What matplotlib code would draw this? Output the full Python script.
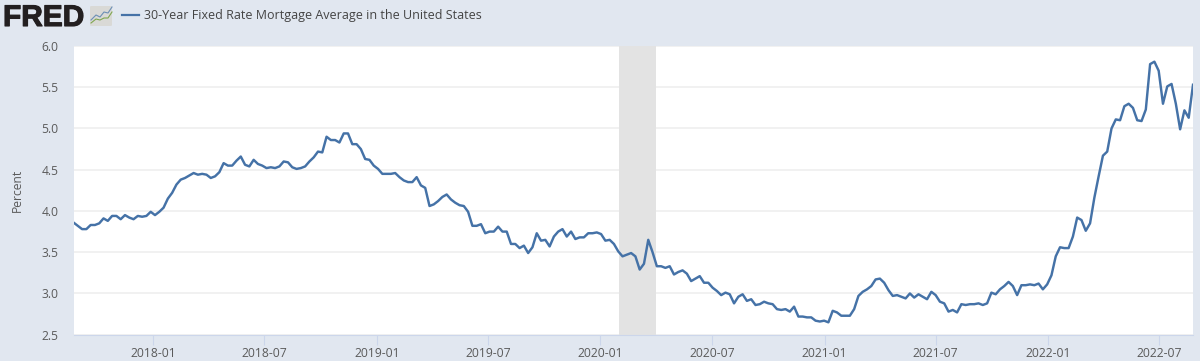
import matplotlib
matplotlib.use("Agg")
import matplotlib.pyplot as plt
import matplotlib.patheffects as pe
import pandas as pd
from matplotlib.lines import Line2D
from matplotlib.patches import FancyBboxPatch

series_name = "30-Year Fixed Rate Mortgage Average in the United States"
y_label = "Percent"
y_ticks = [2.5, 3.0, 3.5, 4.0, 4.5, 5.0, 5.5, 6.0]
x_ticks = ["2018-01", "2018-07", "2019-01", "2019-07", "2020-01", "2020-07",
           "2021-01", "2021-07", "2022-01", "2022-07"]
recession = ("2020-02-01", "2020-04-01")
start_date = "2017-08-24"

v2017 = [3.86, 3.82, 3.78, 3.78, 3.83, 3.83, 3.85, 3.91, 3.88, 3.94, 3.94, 3.90,
         3.95, 3.92, 3.90, 3.94, 3.93, 3.94, 3.99]
v2018 = [3.95, 3.99, 4.04, 4.15, 4.22, 4.32, 4.38, 4.40, 4.43, 4.46,
         4.44, 4.45, 4.44, 4.40, 4.42, 4.47, 4.58, 4.55, 4.55, 4.61,
         4.66, 4.56, 4.54, 4.62, 4.57, 4.55, 4.52, 4.53, 4.52, 4.54,
         4.60, 4.59, 4.53, 4.51, 4.52, 4.54, 4.60, 4.65, 4.72, 4.71,
         4.90, 4.86, 4.86, 4.83, 4.94, 4.94, 4.81, 4.81, 4.75, 4.63,
         4.62, 4.55]
v2019 = [4.51, 4.45, 4.45, 4.45, 4.46, 4.41, 4.37, 4.35, 4.35, 4.41,
         4.31, 4.28, 4.06, 4.08, 4.12, 4.17, 4.20, 4.14, 4.10, 4.07,
         4.06, 3.99, 3.82, 3.82, 3.84, 3.73, 3.75, 3.75, 3.81, 3.75,
         3.75, 3.60, 3.60, 3.55, 3.58, 3.49, 3.56, 3.73, 3.64, 3.65,
         3.57, 3.69, 3.75, 3.78, 3.69, 3.75, 3.66, 3.68, 3.68, 3.73,
         3.73, 3.74]
v2020 = [3.72, 3.64, 3.65, 3.60, 3.51, 3.45, 3.47, 3.49, 3.45, 3.29,
         3.36, 3.65, 3.50, 3.33, 3.33, 3.31, 3.33, 3.23, 3.26, 3.28,
         3.24, 3.15, 3.18, 3.21, 3.13, 3.13, 3.07, 3.03, 2.98, 3.01,
         2.99, 2.88, 2.96, 2.99, 2.91, 2.93, 2.86, 2.87, 2.90, 2.88,
         2.87, 2.81, 2.80, 2.81, 2.78, 2.84, 2.72, 2.72, 2.71, 2.71,
         2.67, 2.66, 2.67]
v2021 = [2.65, 2.79, 2.77, 2.73, 2.73, 2.73, 2.81, 2.97, 3.02, 3.05,
         3.09, 3.17, 3.18, 3.13, 3.04, 2.97, 2.98, 2.96, 2.94, 3.00,
         2.95, 2.99, 2.96, 2.93, 3.02, 2.98, 2.90, 2.88, 2.78, 2.80,
         2.77, 2.87, 2.86, 2.87, 2.87, 2.88, 2.86, 2.88, 3.01, 2.99,
         3.05, 3.09, 3.14, 3.09, 2.98, 3.10, 3.10, 3.11, 3.10, 3.12,
         3.05, 3.11]
v2022 = [3.22, 3.45, 3.56, 3.55, 3.55, 3.69, 3.92, 3.89, 3.76, 3.85,
         4.16, 4.42, 4.67, 4.72, 5.00, 5.11, 5.10, 5.27, 5.30, 5.25,
         5.10, 5.09, 5.23, 5.78, 5.81, 5.70, 5.30, 5.51, 5.54, 5.30,
         4.99, 5.22, 5.13, 5.53]
values = v2017 + v2018 + v2019 + v2020 + v2021 + v2022
dates = pd.date_range(start_date, periods=len(values), freq="7D")

BG = "#e1e7f0"
LINE = "#4572a7"
TXT = "#5a5a5a"
W, H = 1200, 361

plt.rcParams["font.family"] = ["Open Sans", "DejaVu Sans"]
fig = plt.figure(figsize=(W / 100, H / 100), dpi=100, facecolor=BG)
L, R, T, B = 73.5, 1193.0, 46.0, 334.7
ax = fig.add_axes([L / W, 1 - B / H, (R - L) / W, (B - T) / H], facecolor="white")

ax.axvspan(pd.Timestamp(recession[0]), pd.Timestamp(recession[1]), color="#e3e3e3", lw=0, zorder=2)
ax.plot(dates, values, color=LINE, lw=1.75, zorder=3, solid_joinstyle="round")
ax.set_xlim(dates[0], dates[-1])
ax.set_ylim(2.5, 6.0)
ax.set_yticks(y_ticks)
ax.set_yticklabels([f"{v:.1f}" for v in y_ticks], color=TXT, fontsize=8.7)
ax.set_xticks([pd.Timestamp(t + "-01") for t in x_ticks])
ax.set_xticklabels(x_ticks, color=TXT, fontsize=8.7)
ax.grid(axis="y", color="#eeeeee", lw=1.1, zorder=1)
ax.tick_params(axis="y", length=0, pad=11)
ax.tick_params(axis="x", length=7.5, width=0.8, color="#ccd6eb", pad=1.5)
for s in ["top", "right", "left"]:
    ax.spines[s].set_visible(False)
ax.spines["bottom"].set_color("#ccd6eb")
ax.spines["bottom"].set_linewidth(0.8)

fig.text(17 / W, 1 - 190 / H, y_label, rotation=90, color=TXT, fontsize=8.7, ha="center", va="center")

# Header: logo and legend key
logo = fig.text(3 / W, 1 - 26 / H, "FRED", family="Liberation Sans", weight="bold", fontsize=21.5,
                color="#231f20", ha="left", va="baseline")
logo.set_path_effects([pe.withStroke(linewidth=0.8, foreground="#231f20")])
to_fig = lambda xs, ys: ([x / W for x in xs], [1 - y / H for y in ys])
fig.add_artist(FancyBboxPatch((90 / W, 1 - 26 / H), 22 / W, 20 / H, transform=fig.transFigure,
                              boxstyle="round,pad=0,rounding_size=0.002", fc="#d9d9d6", ec="none"))
bx, by = to_fig([91, 96, 100, 104, 108, 112], [20, 15, 17, 12, 13, 7])
gx, gy = to_fig([91, 96, 100, 104, 108, 112], [23, 19, 20, 18, 18, 12])
fig.add_artist(Line2D(bx, by, color="#6c8fb5", lw=0.8, transform=fig.transFigure))
fig.add_artist(Line2D(gx, gy, color="#7fa650", lw=0.8, transform=fig.transFigure))
kx, ky = to_fig([122, 139], [15, 15])
fig.add_artist(Line2D(kx, ky, color=LINE, lw=1.6, transform=fig.transFigure))
fig.text(144 / W, 1 - 15.5 / H, series_name, color="#444444", fontsize=9.0, ha="left", va="center")

fig.savefig("out.png", dpi=100, facecolor=BG)
